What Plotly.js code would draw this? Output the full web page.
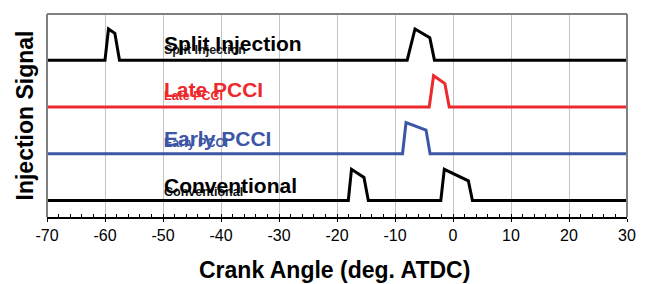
<!DOCTYPE html>
<html>
<head>
<meta charset="utf-8">
<script src="https://cdn.plot.ly/plotly-3.0.1.min.js"></script>
<style>html,body{margin:0;padding:0;background:#fff;}#chart{width:647px;height:284px;}</style>
</head>
<body>
<div id="chart"></div>
<script>
// Crank angle (deg. ATDC) and injection signal (offset per strategy)
const splitX = [-70, -60, -59.4, -58.3, -57.5, -7.9, -6.55, -4.0, -3.2, 30];
const splitY = [4.5, 4.5, 5.5, 5.36, 4.5, 4.5, 5.5, 5.22, 4.5, 4.5];
const lateX = [-70, -4.1, -3.35, -1.4, -0.65, 30];
const lateY = [3.0, 3.0, 4.0, 3.75, 3.0, 3.0];
const earlyX = [-70, -8.7, -8.1, -4.65, -3.95, 30];
const earlyY = [1.5, 1.5, 2.5, 2.26, 1.5, 1.5];
const convX = [-70, -18.05, -17.5, -15.35, -14.6, -2.1, -1.5, 2.65, 3.35, 30];
const convY = [0, 0, 1, 0.74, 0, 0, 1, 0.63, 0, 0];

const labels = ["Split Injection", "Late PCCI", "Early PCCI", "Conventional"];
const labelBase = [4.5, 3.0, 1.5, 0];
const colors = ["#000000", "#ec2a2e", "#3d56a6", "#000000"];
const smallColors = ["#222222", "#ec2a2e", "#3d56a6", "#111111"];
const labelX = -50.2;
const xTicks = [-70, -60, -50, -40, -30, -20, -10, 0, 10, 20, 30];

const seriesX = [splitX, lateX, earlyX, convX];
const seriesY = [splitY, lateY, earlyY, convY];

const traces = seriesX.map((xs, i) => ({
  x: xs, y: seriesY[i], type: 'scatter', mode: 'lines',
  line: {color: colors[i], width: 3},
  name: labels[i], hoverinfo: 'skip', showlegend: false
}));

const bigOff = [0.53, 0.55, 0.50, 0.47];
const smallOff = [0.33, 0.35, 0.34, 0.28];
const annotations = [];
labels.forEach((t, i) => {
  annotations.push({x: labelX, y: labelBase[i] + smallOff[i], xref: 'x', yref: 'y', text: t,
    showarrow: false, xanchor: 'left', yanchor: 'middle',
    font: {family: 'Liberation Sans, Arial, sans-serif', size: 12.5, color: smallColors[i], weight: 'bold'}});
  annotations.push({x: labelX, y: labelBase[i] + bigOff[i], xref: 'x', yref: 'y', text: '<b>' + t + '</b>',
    showarrow: false, xanchor: 'left', yanchor: 'middle',
    font: {family: 'Liberation Sans, Arial, sans-serif', size: 21, color: colors[i]}});
});
annotations.push({x: -0.038, y: 0.5, xref: 'paper', yref: 'paper', text: '<b>Injection Signal</b>',
  textangle: -90, showarrow: false, xanchor: 'center', yanchor: 'middle',
  font: {family: 'Liberation Sans, Arial, sans-serif', size: 23, color: '#000'}});
annotations.push({x: 0.495, y: -0.262, xref: 'paper', yref: 'paper', text: '<b>Crank Angle (deg. ATDC)</b>',
  showarrow: false, xanchor: 'center', yanchor: 'middle',
  font: {family: 'Liberation Sans, Arial, sans-serif', size: 23, color: '#000'}});

const layout = {
  width: 647, height: 284,
  margin: {l: 47, r: 20, t: 14, b: 67},
  paper_bgcolor: '#fff', plot_bgcolor: '#fff',
  font: {family: 'Liberation Sans, Arial, sans-serif', color: '#000'},
  xaxis: {
    range: [-70, 30], tickvals: xTicks, ticktext: xTicks.map(String),
    showgrid: true, gridcolor: '#c4c4c4', gridwidth: 1,
    zeroline: false, showline: true, linecolor: '#000', linewidth: 2,
    ticks: 'outside', ticklen: 3, tickcolor: '#000', tickwidth: 1,
    minor: {dtick: 2, ticks: 'inside', ticklen: 3, tickcolor: '#000', showgrid: false},
    tickfont: {size: 16, color: '#000'},
    fixedrange: true
  },
  yaxis: {
    range: [-0.53, 5.98], showgrid: false, zeroline: false,
    showticklabels: false, ticks: '', showline: false, fixedrange: true
  },
  shapes: [
    {type: 'line', xref: 'paper', yref: 'paper', x0: 0, x1: 1, y0: 1, y1: 1, line: {color: '#808080', width: 2}},
    {type: 'line', xref: 'paper', yref: 'paper', x0: 1, x1: 1, y0: 0, y1: 1, line: {color: '#808080', width: 2}},
    {type: 'line', xref: 'paper', yref: 'paper', x0: 0, x1: 0, y0: 0, y1: 1, line: {color: '#808080', width: 2}}
  ],
  annotations: annotations
};

Plotly.newPlot('chart', traces, layout, {displayModeBar: false, staticPlot: true});
</script>
</body>
</html>
